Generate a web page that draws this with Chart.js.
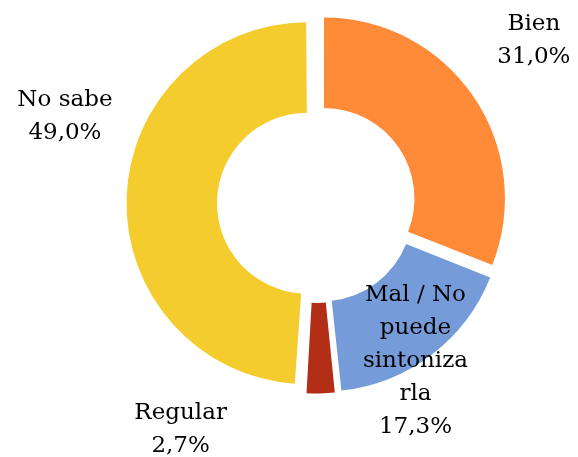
<!DOCTYPE html>
<html>
<head>
<meta charset="utf-8">
<script src="https://cdn.jsdelivr.net/npm/chart.js"></script>
<style>
  html, body { margin: 0; padding: 0; background: #fff; }
  #wrap { width: 578px; height: 457px; }
</style>
</head>
<body>
<div id="wrap"><canvas id="tvChart"></canvas></div>
<script>
const categories = ['Bien', ['Mal / No', 'puede', 'sintoniza', 'rla'], 'Regular', 'No sabe'];
const shares = [31.0, 17.3, 2.7, 49.0];
const sliceColors = ['#FF8A38', '#759BD9', '#B22E17', '#F4CC2E'];

// where each label sits relative to its slice: turn in degrees, distance in outer radii
const labelSpots = [
  { turn: -2.6, dist: 1.5 },
  { turn: 5.2, dist: 1.03 },
  { turn: 32.3, dist: 1.456 },
  { turn: 17.2, dist: 1.47 }
];

const fmt = v => v.toFixed(1).replace('.', ',') + '%';

// Chart.js grows the radius of wide offset slices; undo that so slices only shift
const keepRadius = {
  id: 'keepRadius',
  afterDatasetsUpdate(chart) {
    chart.getDatasetMeta(0).data.forEach(arc => {
      const fix = 1 - Math.sin(Math.min(Math.PI, arc.circumference));
      const shift = (arc.options.offset || 0) / 4 * fix;
      arc.outerRadius -= shift;
      arc.innerRadius -= shift;
    });
  }
};

const sliceLabels = {
  id: 'sliceLabels',
  afterDatasetsDraw(chart) {
    const c = chart.ctx;
    const meta = chart.getDatasetMeta(0);
    const R = meta.controller.outerRadius;
    c.save();
    c.font = '23px "DejaVu Serif"';
    c.fillStyle = '#000';
    c.textAlign = 'center';
    c.textBaseline = 'middle';
    const lh = 33;
    meta.data.forEach((arc, i) => {
      const spot = labelSpots[i];
      const mid = (arc.startAngle + arc.endAngle) / 2 + spot.turn * Math.PI / 180;
      const x = arc.x + Math.cos(mid) * R * spot.dist;
      const y = arc.y + Math.sin(mid) * R * spot.dist;
      const lines = [].concat(categories[i], fmt(shares[i]));
      const top = y - (lines.length - 1) * lh / 2;
      lines.forEach((t, k) => c.fillText(t, x, top + k * lh));
    });
    c.restore();
  }
};

new Chart(document.getElementById('tvChart'), {
  type: 'doughnut',
  data: {
    labels: categories,
    datasets: [{
      data: shares,
      backgroundColor: sliceColors,
      borderWidth: 0,
      offset: 36,
      hoverOffset: 0,
      radius: 181,
      cutout: '50%'
    }]
  },
  options: {
    responsive: true,
    maintainAspectRatio: false,
    animation: false,
    events: [],
    layout: { padding: { left: 55, right: 0, top: 0, bottom: 50 } },
    plugins: {
      legend: { display: false },
      tooltip: { enabled: false }
    }
  },
  plugins: [keepRadius, sliceLabels]
});
</script>
</body>
</html>
